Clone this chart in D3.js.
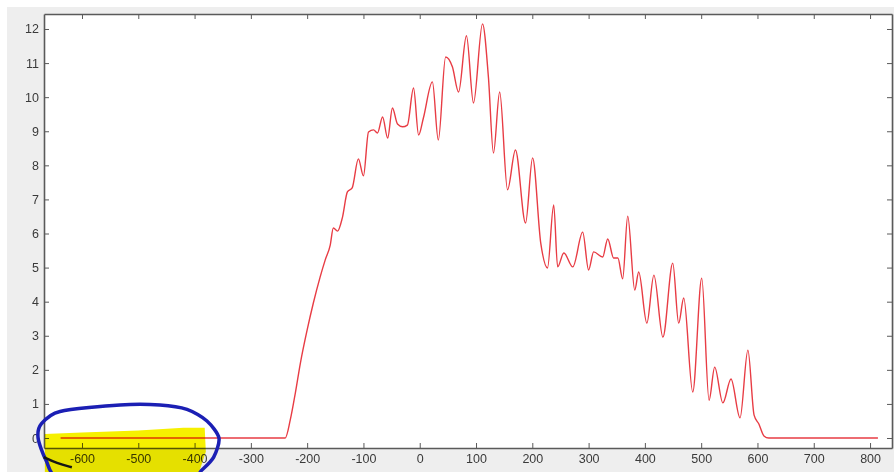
<!DOCTYPE html>
<html><head><meta charset="utf-8">
<script src="https://cdn.jsdelivr.net/npm/d3@7"></script>
<style>
body{margin:0;background:#fff}
svg{display:block}
text{font-family:"Liberation Sans",Arial,sans-serif}
</style>
</head><body>
<svg id="c" width="894" height="472"></svg>
<script>
// ---- data ----
const xValues = [-638, -239, -230, -221, -212, -200, -189, -177, -168, -159, -153.5, -146, -137.5, -128.5, -120, -109, -100, -91, -82, -75, -66, -57, -48.5, -39.5, -30.5, -22, -11, -2, 6.5, 22.5, 33, 46, 58, 69, 83, 95.5, 111.5, 122, 131, 142, 156, 170, 188, 200.5, 215, 227, 238, 245, 256, 272, 289.5, 300, 309, 325, 334, 344.5, 352, 360.5, 369.5, 382, 389, 403.5, 416, 432, 449.5, 460, 469, 485, 501, 514, 524, 538.5, 553, 569, 583, 594, 602.5, 611.5, 620, 814];
const yValues = [0, 0, 0.53, 1.32, 2.2, 3.17, 3.96, 4.72, 5.22, 5.66, 6.16, 6.07, 6.46, 7.22, 7.34, 8.19, 7.69, 8.98, 9.04, 8.95, 9.42, 8.80, 9.68, 9.21, 9.13, 9.18, 10.27, 8.89, 9.39, 10.45, 8.74, 11.18, 10.89, 10.15, 11.80, 9.83, 12.15, 10.59, 8.36, 10.15, 7.28, 8.45, 6.31, 8.22, 5.72, 4.99, 6.84, 5.02, 5.43, 5.02, 6.04, 4.93, 5.46, 5.31, 5.84, 5.28, 5.28, 4.67, 6.51, 4.34, 4.87, 3.37, 4.78, 2.96, 5.13, 3.37, 4.11, 1.35, 4.69, 1.11, 2.08, 1.03, 1.73, 0.59, 2.58, 0.67, 0.41, 0.06, 0, 0];
const xTicks = [-600, -500, -400, -300, -200, -100, 0, 100, 200, 300, 400, 500, 600, 700, 800];
const yTicks = [0, 1, 2, 3, 4, 5, 6, 7, 8, 9, 10, 11, 12];
const xDomain = [-667.5, 839];
const yDomain = [-0.293, 12.44];

// hand-made annotations, in data units
const highlightX = [-666, -600, -500, -420, -382, -380, -394, -666];
const highlightY = [0.12, 0.16, 0.22, 0.30, 0.30, -0.4, -1.1, -1.1];
const circleX = [-678, -672, -639, -532.5, -461.5, -413.5, -378, -356.7, -366, -387, -410, -518, -639, -664];
const circleY = [0, 0.42, 0.78, 0.97, 0.97, 0.84, 0.50, 0, -0.56, -0.94, -1.25, -1.45, -1.2, -0.65];
const penX = [-668, -645, -618];
const penY = [-0.56, -0.74, -0.86];

// ---- layout ----
const W = 894, H = 472;
const m = {left: 44, right: 2, top: 14, bottom: 24};
const svg = d3.select("#c");

svg.append("rect").attr("x", 7).attr("y", 7).attr("width", W).attr("height", H).attr("fill", "#eeeeee");

const x = d3.scaleLinear().domain(xDomain).range([m.left, W - m.right]);
const y = d3.scaleLinear().domain(yDomain).range([H - m.bottom, m.top]);

svg.append("rect").attr("x", m.left).attr("y", m.top)
  .attr("width", W - m.right - m.left).attr("height", H - m.bottom - m.top).attr("fill", "#fff");

const data = xValues.map((v, i) => [v, yValues[i]]);
const line = d3.line().x(d => x(d[0])).y(d => y(d[1])).curve(d3.curveMonotoneX);

svg.append("path").datum(data).attr("d", line)
  .attr("fill", "none").attr("stroke", "#e83c44").attr("stroke-width", 1.4);

const fmt = d => String(d);
function style(g) {
  g.select(".domain").attr("stroke", "#5a5a5a").attr("stroke-width", 1.6);
  g.selectAll(".tick line").attr("stroke", "#5a5a5a").attr("stroke-width", 1);
  g.selectAll(".tick text").attr("fill", "#3a3a3a").attr("font-size", 12.5)
    .attr("font-family", "'Liberation Sans',Arial,sans-serif");
}
svg.append("g").attr("transform", `translate(0,${H - m.bottom})`)
  .call(d3.axisBottom(x).tickValues(xTicks).tickFormat(fmt).tickSizeInner(-5).tickSizeOuter(0).tickPadding(6))
  .call(style);
svg.append("g").attr("transform", `translate(0,${m.top})`)
  .call(d3.axisTop(x).tickValues(xTicks).tickFormat("").tickSizeInner(-5).tickSizeOuter(0))
  .call(style);
svg.append("g").attr("transform", `translate(${m.left},0)`)
  .call(d3.axisLeft(y).tickValues(yTicks).tickFormat(fmt).tickSizeInner(-5).tickSizeOuter(0).tickPadding(5))
  .call(style);
svg.append("g").attr("transform", `translate(${W - m.right},0)`)
  .call(d3.axisRight(y).tickValues(yTicks).tickFormat("").tickSizeInner(-5).tickSizeOuter(0))
  .call(style);

// annotations
const hl = highlightX.map((v, i) => [v, highlightY[i]]);
svg.append("path").datum(hl)
  .attr("d", d3.line().x(d => x(d[0])).y(d => y(d[1])).curve(d3.curveLinearClosed))
  .attr("fill", "#f6f000").style("mix-blend-mode", "multiply");

const circ = circleX.map((v, i) => [v, circleY[i]]);
svg.append("path").datum(circ)
  .attr("d", d3.line().x(d => x(d[0])).y(d => y(d[1])).curve(d3.curveCardinalClosed.tension(0.2)))
  .attr("fill", "none").attr("stroke", "#1b1fb4").attr("stroke-width", 3.5);

const pen = penX.map((v, i) => [v, penY[i]]);
svg.append("path").datum(pen)
  .attr("d", d3.line().x(d => x(d[0])).y(d => y(d[1])).curve(d3.curveBasis))
  .attr("fill", "none").attr("stroke", "#151515").attr("stroke-width", 2.5);
</script>
</body></html>
